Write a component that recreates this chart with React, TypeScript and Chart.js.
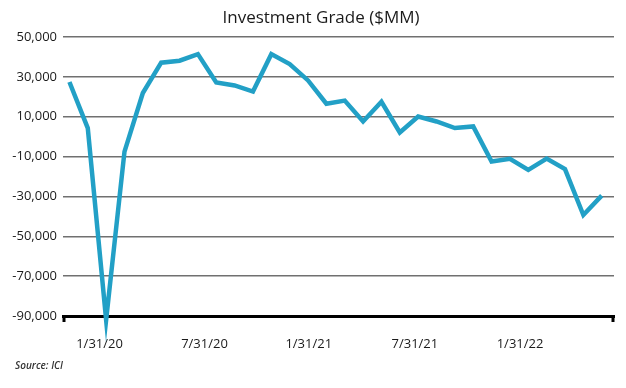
import React, { useEffect, useRef } from "react";
import { Chart, registerables } from "chart.js";

Chart.register(...registerables);

const TITLE = "Investment Grade ($MM)";
const SOURCE = "Source: ICI";

// monthly flow values ($MM), one per period
const flows = [
  27400, 4300, -92000, -7500, 21900, 37100, 38100, 41400, 27200, 25700,
  22600, 41400, 36400, 28200, 16500, 18100, 7600, 17500, 2100, 10100,
  7600, 4300, 5100, -12500, -11100, -16700, -11000, -16300, -39300, -29600,
];

// date labels and where they fall on the period index scale
const xLabels = ["1/31/20", "7/31/20", "1/31/21", "7/31/21", "1/31/22"];
const xLabelAt = [1.64, 7.36, 13.04, 18.82, 24.55];

const yMin = -90000;
const yMax = 50000;
const yStep = 20000;

const FONT = "'Open Sans', 'Noto Sans', sans-serif";

export default function App() {
  const ref = useRef<HTMLCanvasElement>(null);

  useEffect(() => {
    if (!ref.current) return;
    const decor = {
      id: "decor",
      afterDraw(chart: any) {
        const { ctx, chartArea } = chart;
        ctx.save();
        // title
        ctx.fillStyle = "#1a1a1a";
        ctx.font = `17px ${FONT}`;
        ctx.textAlign = "center";
        ctx.textBaseline = "middle";
        ctx.fillText(TITLE, 321, 18);
        // source
        ctx.font = `italic 600 10px ${FONT}`;
        ctx.textAlign = "left";
        ctx.fillStyle = "#333";
        ctx.fillText(SOURCE, 15, 366);
        // end ticks of x axis
        ctx.strokeStyle = "#000";
        ctx.lineWidth = 3;
        ctx.beginPath();
        ctx.moveTo(chartArea.left + 1, chartArea.bottom - 1);
        ctx.lineTo(chartArea.left + 1, chartArea.bottom + 6);
        ctx.moveTo(chartArea.right - 1, chartArea.bottom - 1);
        ctx.lineTo(chartArea.right - 1, chartArea.bottom + 6);
        ctx.stroke();
        ctx.restore();
      },
    };

    const chart = new Chart(ref.current, {
      type: "line",
      data: {
        datasets: [
          {
            data: flows.map((v, i) => ({ x: i, y: v })),
            borderColor: "#22a0c6",
            borderWidth: 4.5,
            pointRadius: 0,
            tension: 0,
            fill: false,
            clip: false as any,
          },
        ],
      },
      options: {
        animation: false,
        responsive: true,
        maintainAspectRatio: false,
        layout: { padding: { top: 37, right: 12, bottom: 0, left: 0 } },
        plugins: {
          legend: { display: false },
          title: { display: false },
          tooltip: { enabled: false },
        },
        scales: {
          x: {
            type: "linear",
            min: -0.35,
            max: 29.67,
            afterBuildTicks(scale: any) {
              scale.ticks = xLabelAt.map((v) => ({ value: v }));
            },
            afterFit(scale: any) {
              scale.height = 72;
            },
            ticks: {
              autoSkip: false,
              maxRotation: 0,
              padding: 20,
              color: "#1a1a1a",
              font: { family: FONT, size: 13 },
              callback: (_v: any, i: number) => xLabels[i],
            },
            grid: { display: false, drawTicks: false },
            border: { display: true, color: "#000", width: 3 },
          },
          y: {
            min: yMin,
            max: yMax,
            afterBuildTicks(scale: any) {
              const t = [];
              for (let v = yMin; v <= yMax; v += yStep) t.push({ value: v });
              scale.ticks = t;
            },
            afterFit(scale: any) {
              scale.width = 63;
            },
            ticks: {
              padding: 6,
              color: "#1a1a1a",
              font: { family: FONT, size: 13 },
              callback: (v: any) => Number(v).toLocaleString("en-US"),
            },
            grid: { color: "#707070", lineWidth: 1.5, drawTicks: false },
            border: { display: false },
          },
        },
      },
      plugins: [decor],
    });
    return () => chart.destroy();
  }, []);

  return (
    <div style={{ position: "fixed", left: 0, top: 0, width: 626, height: 388, background: "#fff" }}>
      <canvas ref={ref} />
    </div>
  );
}
